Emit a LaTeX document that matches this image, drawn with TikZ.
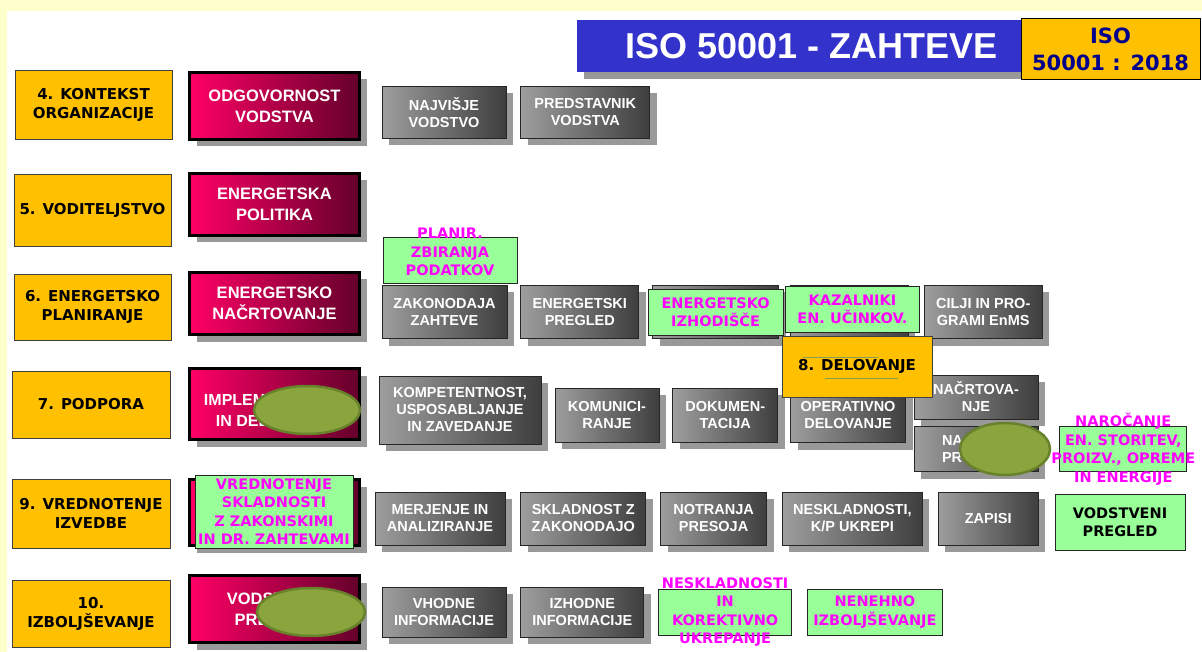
\documentclass[tikz,border=0pt]{standalone}
\usepackage{fontspec}
\setmainfont{Liberation Sans}
\newfontfamily\tahoma{DejaVu Sans}
\usetikzlibrary{positioning,shapes.geometric,shadows}
\definecolor{pagecream}{RGB}{255,255,204}
\definecolor{titleblue}{RGB}{51,51,204}
\definecolor{navytext}{RGB}{0,0,140}
\definecolor{clauseyellow}{RGB}{255,192,0}
\definecolor{hotpink}{RGB}{255,0,102}
\definecolor{winered}{RGB}{100,0,42}
\definecolor{lightgrey}{RGB}{158,158,158}
\definecolor{darkgrey}{RGB}{62,62,62}
\definecolor{mintgreen}{RGB}{153,255,153}
\definecolor{newmagenta}{RGB}{255,0,255}
\definecolor{blotfill}{RGB}{139,165,62}
\definecolor{blotedge}{RGB}{104,130,44}
\definecolor{olivetrace}{RGB}{130,160,90}
\tikzset{
    boxshadow/.style={drop shadow={shadow xshift=7pt,shadow yshift=-7pt,fill=black!40,opacity=1}},
    clause/.style={rectangle,draw=black!75,line width=0.8pt,fill=clauseyellow,align=center,
        font=\tahoma\bfseries\fontsize{15}{19}\selectfont},
    leadbox/.style={rectangle,draw=black,line width=3pt,left color=hotpink,right color=winered,
        minimum width=170pt,text=white,align=center,
        font=\bfseries\fontsize{16.5}{21}\selectfont,boxshadow},
    leadtext/.style={text=white,align=center,inner sep=0pt,font=\bfseries\fontsize{16}{21}\selectfont},
    taskbox/.style={rectangle,draw=black!85,line width=0.8pt,left color=lightgrey,right color=darkgrey,
        text=white,align=center,font=\bfseries\fontsize{14.5}{17}\selectfont,boxshadow},
    newbox/.style={rectangle,draw=black!85,line width=0.8pt,fill=mintgreen,text=newmagenta,
        align=center,inner sep=1pt,font=\tahoma\bfseries\fontsize{14.5}{18.5}\selectfont},
    magtext/.style={text=newmagenta,align=center,inner sep=0pt,
        font=\tahoma\bfseries\fontsize{14.5}{18.5}\selectfont},
    blot/.style={ellipse,draw=blotedge,fill=blotfill,line width=2.5pt,inner sep=0pt},
    trace/.style={draw=olivetrace,line width=0.6pt}
}

\begin{document}
\begin{tikzpicture}[x=1pt,y=-1pt]

    \useasboundingbox (0,0) rectangle (1202,652);
    \fill[pagecream] (0,0) rectangle (1202,652);
    \fill[white] (7,11) rectangle (1202,652);

    % title
    \node[rectangle,fill=titleblue,text=white,minimum width=445pt,minimum height=52pt,
          font=\bfseries\fontsize{36}{40}\selectfont,boxshadow] (title) at (799.5,46) {\hspace*{24pt}ISO 50001 - ZAHTEVE};
    \node[rectangle,draw=black,line width=1pt,fill=clauseyellow,text=navytext,align=center,
          minimum width=179pt,minimum height=61pt,inner sep=1pt,
          font=\tahoma\bfseries\fontsize{21}{27}\selectfont] (iso) at (1110.5,49.5) {ISO\\50001 : 2018};

    % clauses
    \node[clause,minimum width=157pt,minimum height=69pt] (cl 4)  at (93.5,104.5) {4. KONTEKST\\ORGANIZACIJE};
    \node[clause,minimum width=157pt,minimum height=72pt] (cl 5)  at (92.5,210)   {5. VODITELJSTVO};
    \node[clause,minimum width=157pt,minimum height=66pt] (cl 6)  at (92.5,307)   {6. ENERGETSKO\\PLANIRANJE};
    \node[clause,minimum width=158pt,minimum height=67pt] (cl 7)  at (91,404.5)   {7. PODPORA};
    \node[clause,minimum width=158pt,minimum height=69pt] (cl 9)  at (91,513.5)   {9. VREDNOTENJE\\IZVEDBE};
    \node[clause,minimum width=158pt,minimum height=67pt] (cl 10) at (91,613.5)   {10.\\IZBOLJŠEVANJE};

    \node[leadbox,minimum height=67pt] (lead 4)  at (274.5,106)   {ODGOVORNOST\\VODSTVA};
    \node[leadbox,minimum height=62pt] (lead 5)  at (274.5,204.5) {ENERGETSKA\\POLITIKA};
    \node[leadbox,minimum height=62pt] (lead 6)  at (274.5,303.5) {ENERGETSKO\\NAČRTOVANJE};
    \node[leadbox,minimum height=71pt] (lead 7)  at (274.5,404)   {};
    \node[leadtext] (lead 7 txt) at ([yshift=-6pt]lead 7) {IMPLEMENTACIJA\\IN DELOVANJE};
    \node[leadbox,minimum height=66pt] (lead 9)  at (274.5,512.5) {};
    \node[leadbox,minimum height=67pt] (lead 10) at (274.5,609)   {VODSTVENI\\PREGLED};

    % row 4
    \node[taskbox,minimum width=124pt,minimum height=52pt] (najv) at (444,112.5) {NAJVIŠJE\\VODSTVO};
    \node[taskbox,minimum width=129pt,minimum height=52pt] (predst) [right=14pt of najv] {PREDSTAVNIK\\VODSTVA};

    % row 6
    \node[taskbox,minimum width=125pt,minimum height=53pt] (zakon) at (444.5,312) {ZAKONODAJA\\ZAHTEVE};
    \node[taskbox,minimum width=118pt,minimum height=53pt] (enpreg) [right=13pt of zakon]  {ENERGETSKI\\PREGLED};
    \node[taskbox,minimum width=126pt,minimum height=53pt] (izhod)  [right=13pt of enpreg] {};
    \node[taskbox,minimum width=118pt,minimum height=53pt] (kazal)  [right=11pt of izhod]  {};
    \node[taskbox,minimum width=118pt,minimum height=53pt] (cilji)  [right=15pt of kazal]  {CILJI IN PRO-\\GRAMI EnMS};

    \node[newbox,minimum width=135pt,minimum height=46pt] (izhod new) at (izhod) {ENERGETSKO\\IZHODIŠČE};
    \node[newbox,minimum width=134pt,minimum height=46pt] (kazal new) at ([xshift=3pt,yshift=2.5pt]kazal) {KAZALNIKI\\EN. UČINKOV.};
    \node[newbox,minimum width=134pt,minimum height=46pt] (zbir box) at (450,260) {};
    \node[magtext] (zbir) at ([yshift=8pt]zbir box) {PLANIR.\\ZBIRANJA\\PODATKOV};

    % row 7
    \node[taskbox,minimum width=162pt,minimum height=68pt] (kompet) at (460,410) {KOMPETENTNOST,\\USPOSABLJANJE\\IN ZAVEDANJE};
    \node[taskbox,minimum width=104pt,minimum height=54pt] (komun) at (607,415) {KOMUNICI-\\RANJE};
    \node[taskbox,minimum width=105pt,minimum height=54pt] (dokum)  [right=13pt of komun] {DOKUMEN-\\TACIJA};
    \node[taskbox,minimum width=115pt,minimum height=55pt] (operat) [right=12pt of dokum] {OPERATIVNO\\DELOVANJE};
    \node[taskbox,minimum width=124pt,minimum height=44pt] (nacrt) at (976,397) {NAČRTOVA-\\NJE};
    \node[taskbox,minimum width=124pt,minimum height=45pt,text width=68pt,align=left] (nabava) [below=7pt of nacrt] {NA\\PR};
    \node[newbox,minimum width=127pt,minimum height=45pt] (naroc box) [right=21pt of nabava] {};
    \node[magtext] (naroc) at (naroc box) {NAROČANJE\\EN. STORITEV,\\PROIZV., OPREME\\IN ENERGIJE};

    \node[clause,minimum width=150pt,minimum height=61pt,font=\tahoma\bfseries\fontsize{15}{17}\selectfont] (cl 8) at (857,366.5) {8. DELOVANJE};
    \draw[trace] (803,357) -- (878,357);
    \draw[trace] (825,378) -- (898,378);

    % row 9
    \node[newbox,minimum width=158pt,minimum height=73pt] (vredn new) at (274,511.5) {VREDNOTENJE\\SKLADNOSTI\\Z ZAKONSKIMI\\IN DR. ZAHTEVAMI};
    \node[taskbox,minimum width=130pt,minimum height=53pt] (merj) at (440,518.5) {MERJENJE IN\\ANALIZIRANJE};
    \node[taskbox,minimum width=125pt,minimum height=53pt] (skladn)  [right=15pt of merj]    {SKLADNOST Z\\ZAKONODAJO};
    \node[taskbox,minimum width=106pt,minimum height=53pt] (presoja) [right=14pt of skladn]  {NOTRANJA\\PRESOJA};
    \node[taskbox,minimum width=140pt,minimum height=53pt] (neskl)   [right=15pt of presoja] {NESKLADNOSTI,\\K/P UKREPI};
    \node[taskbox,minimum width=100pt,minimum height=53pt] (zapisi)  [right=15pt of neskl]   {ZAPISI};
    \node[newbox,minimum width=130pt,minimum height=56pt,text=black] (vodpreg new) at (1120,522) {VODSTVENI\\PREGLED};

    % row 10
    \node[taskbox,minimum width=124pt,minimum height=50pt] (vhod) at (444,612) {VHODNE\\INFORMACIJE};
    \node[taskbox,minimum width=123pt,minimum height=50pt] (izhodinf) [right=14pt of vhod] {IZHODNE\\INFORMACIJE};
    \node[newbox,minimum width=133pt,minimum height=46pt] (korekt box) [right=14pt of izhodinf] {};
    \node[magtext] (korekt) at (korekt box) {NESKLADNOSTI\\IN\\KOREKTIVNO\\UKREPANJE};
    \node[newbox,minimum width=135pt,minimum height=46pt] (nenehno) [right=15pt of korekt box] {NENEHNO\\IZBOLJŠEVANJE};

    % cover-ups
    \node[blot,minimum width=106pt,minimum height=48pt] (blot 1) at (307,410) {};
    \node[blot,minimum width=90pt,minimum height=52pt]  (blot 2) at (1005,449) {};
    \node[blot,minimum width=108pt,minimum height=48pt] (blot 3) at (311,612) {};

\end{tikzpicture}
\end{document}
